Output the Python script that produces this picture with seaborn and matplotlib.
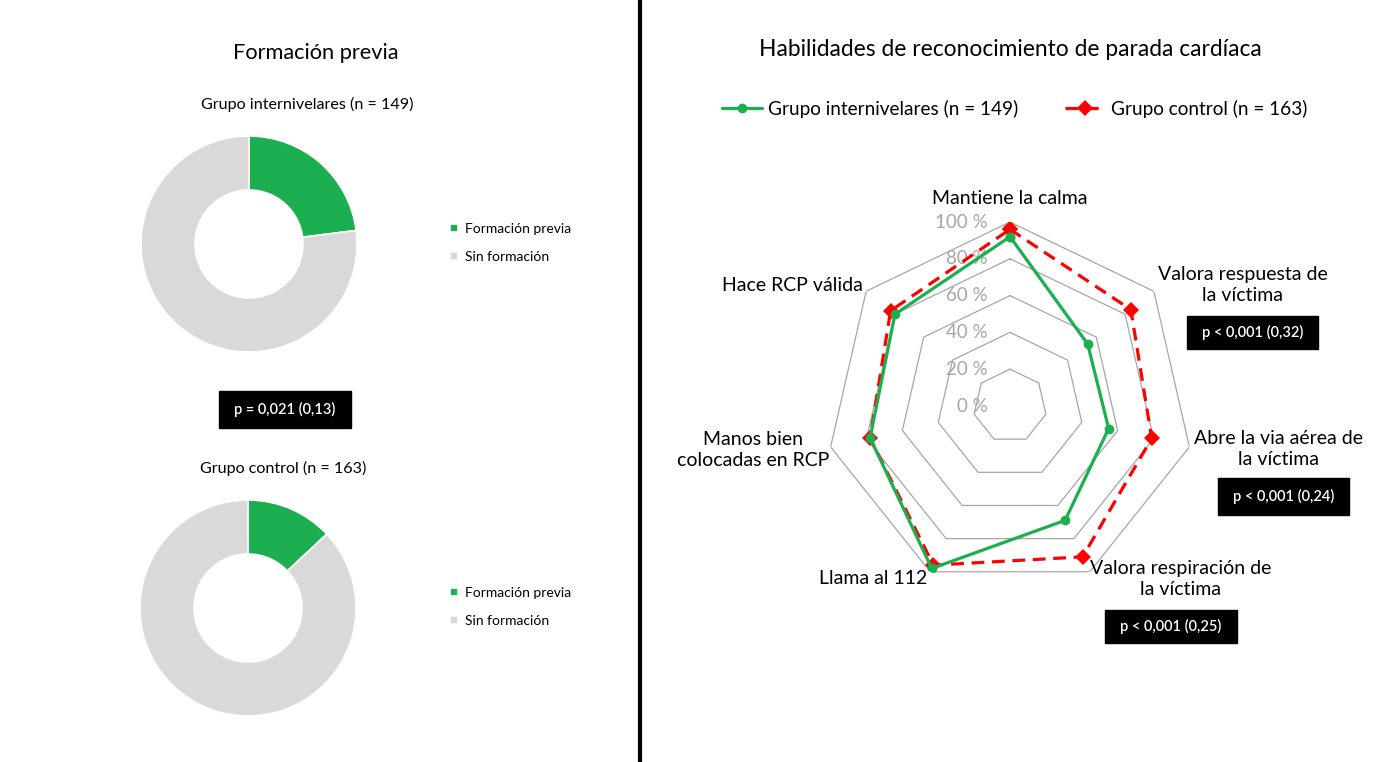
import numpy as np
import pandas as pd
import matplotlib.pyplot as plt
from matplotlib.patches import Rectangle
from matplotlib.lines import Line2D
import seaborn as sns

# Data
donut_labels = ['Formación previa', 'Sin formación']
inter_prev = [23, 77]
control_prev = [13, 87]

skills = ['Mantiene la calma', 'Valora respuesta de\nla víctima',
          'Abre la via aérea de\nla víctima', 'Valora respiración de\nla víctima',
          'Llama al 112', 'Manos bien\ncolocadas en RCP', 'Hace RCP válida']
inter_pct = [92, 54, 55, 69, 98, 78, 80]
control_pct = [96, 84, 79, 91, 96, 78, 83]
ring_levels = [0, 20, 40, 60, 80, 100]

GREEN = '#1BAF4F'
GRAY = '#D9D9D9'
RED = '#FF0000'

W, H = 1384, 762
sns.set_theme(style='white')
plt.rcParams['font.family'] = ['Lato', 'DejaVu Sans']
plt.rcParams['text.color'] = 'black'

fig = plt.figure(figsize=(W / 100, H / 100), dpi=100)


def fx(x):
    return x / W


def fy(y):
    return 1 - y / H


def txt(x, y, s, size, **kw):
    fig.text(fx(x), fy(y), s, fontsize=size, ha=kw.pop('ha', 'center'),
             va=kw.pop('va', 'center'), **kw)


def pbox(x0, y0, x1, y1, s):
    fig.add_artist(Rectangle((fx(x0), fy(y1)), fx(x1) - fx(x0), fy(y0) - fy(y1),
                             transform=fig.transFigure, color='black'))
    txt((x0 + x1) / 2, (y0 + y1) / 2, s, 10.5, color='white', fontweight='semibold')


# ---- left: donuts
def donut(cx, cy, r, vals, leg_y):
    ax = fig.add_axes([fx(cx - r), fy(cy + r), fx(2 * r), 2 * r / H])
    wedges, _ = ax.pie(vals, colors=[GREEN, GRAY], startangle=90, counterclock=False,
                       wedgeprops=dict(width=0.5, edgecolor='white', linewidth=1.2))
    ax.set_xlim(-1, 1)
    ax.set_ylim(-1, 1)
    ax.set_aspect('equal')
    fig.legend(wedges, donut_labels, loc='center left',
               bbox_to_anchor=(fx(450), fy(leg_y)), frameon=False, fontsize=10,
               handlelength=0.55, handleheight=0.55, handletextpad=0.5,
               labelspacing=1.15, borderaxespad=0, borderpad=0)


txt(316, 53, 'Formación previa', 15.7)
txt(307, 104, 'Grupo internivelares (n = 149)', 11.6)
donut(249, 244, 108, inter_prev, 243)
pbox(219, 391, 351, 428, 'p = 0,021 (0,13)')
txt(283, 468, 'Grupo control (n = 163)', 11.6)
donut(248, 608, 108, control_prev, 607)

fig.add_artist(Line2D([fx(640)] * 2, [0, 1], color='black', lw=3,
                      transform=fig.transFigure))

# ---- right: radar
cx, cy, R = 1010, 406, 184
ax = fig.add_axes([fx(cx - R), fy(cy + R), fx(2 * R), 2 * R / H], projection='polar')
ax.set_theta_zero_location('N')
ax.set_theta_direction(-1)
theta = np.arange(len(skills)) * 2 * np.pi / len(skills)
theta_c = np.append(theta, theta[0])

for lv in ring_levels[1:]:
    ax.plot(theta_c, [lv] * len(theta_c), color='#A6A6A6', lw=0.9, zorder=1)
for lv in ring_levels:
    ax.annotate(f'{lv} %', (0, lv), xytext=(-16, 0), textcoords='offset points',
                ha='right', va='center', fontsize=13.5, color='#A6A6A6', zorder=2)

df = pd.DataFrame({'theta': np.concatenate([theta_c, theta_c]),
                   'pct': inter_pct + inter_pct[:1] + control_pct + control_pct[:1],
                   'grupo': ['Grupo internivelares (n = 149)'] * 8 + ['Grupo control (n = 163)'] * 8})

sns.lineplot(data=df[df.grupo.str.contains('inter')], x='theta', y='pct', sort=False,
             estimator=None, ax=ax, color=GREEN, lw=2.3, marker='o', markersize=7,
             markeredgewidth=0, label='Grupo internivelares (n = 149)', zorder=4)
sns.lineplot(data=df[df.grupo.str.contains('control')], x='theta', y='pct', sort=False,
             estimator=None, ax=ax, color=RED, lw=2.3, linestyle=(0, (4, 2.4)),
             marker='D', markersize=8, markeredgewidth=0,
             label='Grupo control (n = 163)', zorder=3)

ax.set_ylim(0, 100)
ax.set_xticks([])
ax.set_yticks([])
ax.grid(False)
ax.spines['polar'].set_visible(False)
ax.set_xlabel('')
ax.set_ylabel('')
ax.patch.set_alpha(0)
handles, labels = ax.get_legend_handles_labels()
ax.get_legend().remove()
fig.legend(handles, labels, loc='center left', bbox_to_anchor=(fx(722), fy(109)),
           ncol=2, frameon=False, fontsize=13.7, handlelength=2.1, handletextpad=0.3,
           columnspacing=2.5, borderaxespad=0, borderpad=0)

txt(1010, 50, 'Habilidades de reconocimiento de parada cardíaca', 16.4)

label_pos = [(1010, 199), (1243, 285), (1279, 449), (1181, 579),
             (873, 578), (753, 450), (792, 286)]
for s, (x, y) in zip(skills, label_pos):
    txt(x, y, s, 14, linespacing=1.35)

pbox(1187, 316, 1318, 349, 'p < 0,001 (0,32)')
pbox(1218, 478, 1349, 515, 'p < 0,001 (0,24)')
pbox(1105, 610, 1237, 643, 'p < 0,001 (0,25)')

fig.savefig('out.png', dpi=100)
